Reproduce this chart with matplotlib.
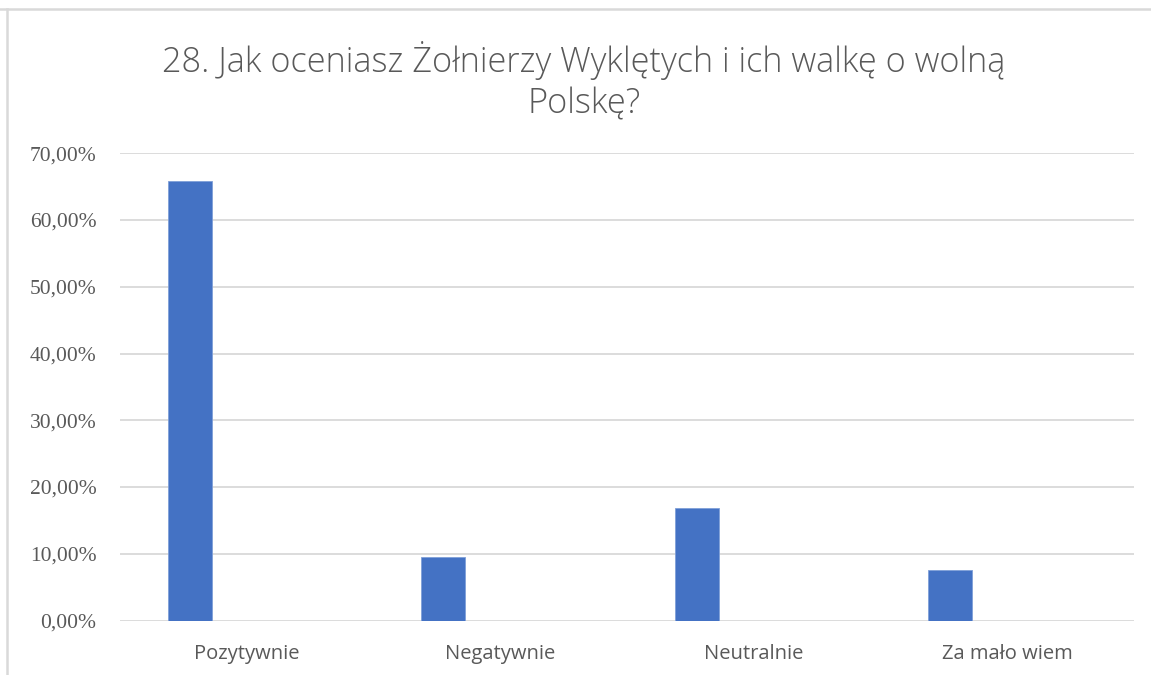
import matplotlib.pyplot as plt
from matplotlib.ticker import FuncFormatter
from matplotlib.lines import Line2D

categories = ["Pozytywnie", "Negatywnie", "Neutralnie", "Za mało wiem"]
values = [65.9, 9.5, 16.8, 7.6]
y_ticks = [0, 10, 20, 30, 40, 50, 60, 70]
title = "28. Jak oceniasz Żołnierzy Wyklętych i ich walkę o wolną\nPolskę?"

TEXT = "#595959"
GRID = "#d9d9d9"
BAR = "#4472c4"

fig = plt.figure(figsize=(11.51, 6.75), dpi=100)
ax = fig.add_axes([120 / 1151, 54.5 / 675, 1014 / 1151, 467.2 / 675])

x = list(range(len(categories)))
ax.bar([i - 0.225 for i in x], values, width=0.174, color=BAR,
       edgecolor="#7f9fd8", linewidth=0.6, zorder=3)

ax.set_xlim(-0.5, len(categories) - 0.5)
ax.set_ylim(0, 70)
ax.set_yticks(y_ticks)
ax.yaxis.set_major_formatter(FuncFormatter(lambda v, p: f"{v:.2f}%".replace(".", ",")))
ax.set_xticks(x)
ax.set_xticklabels(categories, fontfamily="Open Sans", fontsize=14.5, color=TEXT)
for lab in ax.get_yticklabels():
    lab.set_fontfamily("Liberation Serif")
    lab.set_fontsize(15.5)
    lab.set_color(TEXT)

ax.grid(axis="y", color=GRID, linewidth=1.3, zorder=0)
ax.tick_params(axis="both", length=0)
ax.tick_params(axis="y", pad=17)
ax.tick_params(axis="x", pad=17)
for s in ax.spines.values():
    s.set_visible(False)

fig.text(584 / 1151, 1 - 81 / 675, title, ha="center", va="center",
         fontfamily="Open Sans", fontweight="light", fontsize=24.7, color=TEXT,
         linespacing=1.25)

# frame edges of the original screenshot
fig.add_artist(Line2D([0, 1], [1 - 9 / 675, 1 - 9 / 675], color=GRID, linewidth=1.8))
fig.add_artist(Line2D([7.5 / 1151, 7.5 / 1151], [0, 1 - 9 / 675], color=GRID, linewidth=1.8))

fig.savefig("out.png", dpi=100)
